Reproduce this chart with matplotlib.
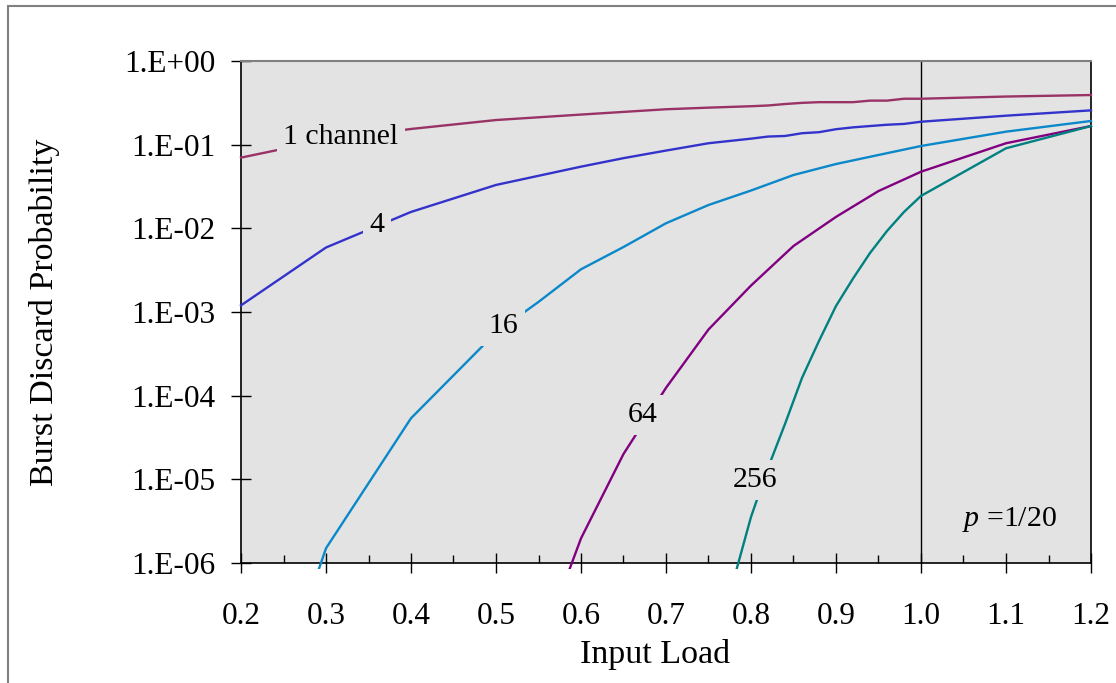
import numpy as np
import matplotlib
matplotlib.use("Agg")
import matplotlib.pyplot as plt
from matplotlib.patches import Rectangle
from matplotlib.transforms import Bbox, TransformedBbox

# ------------------------------
# 1. Data
# ------------------------------
load_1 = [0.2, 0.3, 0.4, 0.5, 0.6, 0.7, 0.75, 0.8, 0.82, 0.84, 0.86, 0.88,
          0.9, 0.92, 0.94, 0.96, 0.98, 1.0, 1.1, 1.2]
prob_1 = [0.070, 0.114, 0.154, 0.197, 0.229, 0.265, 0.277, 0.288, 0.294, 0.306,
          0.316, 0.322, 0.322, 0.322, 0.336, 0.336, 0.354, 0.354, 0.376, 0.392]

load_4 = [0.2, 0.3, 0.4, 0.5, 0.6, 0.65, 0.7, 0.75, 0.8, 0.82, 0.84, 0.86, 0.88,
          0.9, 0.92, 0.94, 0.96, 0.98, 1.0, 1.1, 1.2]
prob_4 = [1.2e-3, 5.9e-3, 1.57e-2, 3.30e-2, 5.46e-2, 0.069, 0.085, 0.104, 0.118,
          0.125, 0.127, 0.137, 0.141, 0.153, 0.161, 0.167, 0.173, 0.177, 0.188,
          0.222, 0.257]

load_16 = [0.29, 0.3, 0.4, 0.5, 0.55, 0.6, 0.65, 0.7, 0.75, 0.8, 0.85, 0.9,
           0.95, 1.0, 1.1, 1.2]
prob_16 = [7.6e-7, 1.5e-6, 5.37e-5, 5.69e-4, 1.32e-3, 3.24e-3, 5.98e-3, 1.15e-2,
           1.90e-2, 2.83e-2, 4.34e-2, 5.87e-2, 7.53e-2, 9.64e-2, 0.143, 0.192]

load_64 = [0.58, 0.6, 0.65, 0.7, 0.75, 0.8, 0.85, 0.9, 0.95, 1.0, 1.1, 1.2]
prob_64 = [5.6e-7, 1.97e-6, 2.01e-5, 1.24e-4, 6.18e-4, 2.07e-3, 6.15e-3,
           1.37e-2, 2.79e-2, 4.75e-2, 0.104, 0.167]

load_256 = [0.78, 0.8, 0.82, 0.84, 0.86, 0.88, 0.9, 0.92, 0.94, 0.96, 0.98,
            1.0, 1.1, 1.2]
prob_256 = [6.5e-7, 3.55e-6, 1.37e-5, 4.59e-5, 1.63e-4, 4.51e-4, 1.18e-3,
            2.51e-3, 5.07e-3, 9.29e-3, 1.57e-2, 2.44e-2, 0.0905, 0.167]

x_ticks = [0.2, 0.3, 0.4, 0.5, 0.6, 0.7, 0.8, 0.9, 1.0, 1.1, 1.2]
x_tick_labels = ["0.2", "0.3", "0.4", "0.5", "0.6", "0.7", "0.8", "0.9",
                 "1.0", "1.1", "1.2"]
y_ticks = [1e0, 1e-1, 1e-2, 1e-3, 1e-4, 1e-5, 1e-6]
y_tick_labels = ["1.E+00", "1.E-01", "1.E-02", "1.E-03", "1.E-04", "1.E-05",
                 "1.E-06"]

# curve labels: text, x, y
curve_labels = [("1 channel", 0.3176, 0.124),
                ("4", 0.360, 0.011),
                ("16", 0.508, 6.8e-4),
                ("64", 0.673, 5.9e-5),
                ("256", 0.805, 9.8e-6)]

# ------------------------------
# 2. Plot
# ------------------------------
plt.rcParams["font.family"] = ["Liberation Serif", "DejaVu Serif"]
plt.rcParams["mathtext.fontset"] = "custom"
plt.rcParams["mathtext.it"] = "Liberation Serif:italic"
plt.rcParams["mathtext.rm"] = "Liberation Serif"
TICK_FS = 22.5
LABEL_FS = 21.5
TITLE_FS = 24.5
BG = "#E3E3E3"

fig = plt.figure(figsize=(11.16, 6.83), dpi=100)
ax = fig.add_axes([241 / 1116, 1 - 563 / 683, 850 / 1116, 502 / 683])
ax.set_facecolor(BG)

series = [(load_1, prob_1, "#993366"),
          (load_4, prob_4, "#3333CC"),
          (load_16, prob_16, "#0A88C9"),
          (load_64, prob_64, "#800080"),
          (load_256, prob_256, "#008080")]

# let lines run a few pixels past the plot edge, like the original
clip = TransformedBbox(Bbox([[-0.01, -0.012], [1.01, 1.0]]), ax.transAxes)
for xs, ys, col in series:
    ln, = ax.plot(xs, ys, color=col, lw=1.7, zorder=3)
    ln.set_clip_box(clip)

ax.axvline(1.0, color="black", lw=1.0, zorder=2)

for txt, tx, ty in curve_labels:
    ax.text(tx, ty, txt, fontsize=LABEL_FS, ha="center", va="center", zorder=5,
            bbox=dict(facecolor=BG, edgecolor="none", pad=5))

ax.text(1.104, 3.3e-6, r"$p$ =1/20", fontsize=LABEL_FS, ha="center",
        va="center", zorder=5)

ax.set_yscale("log")
ax.set_xlim(0.2, 1.2)
ax.set_ylim(1e-6, 1e0)

ax.set_xticks(x_ticks)
ax.set_xticklabels(x_tick_labels)
ax.set_xticks(np.arange(0.25, 1.2, 0.1), minor=True)
ax.set_yticks(y_ticks)
ax.set_yticklabels(y_tick_labels)
ax.yaxis.set_minor_locator(matplotlib.ticker.NullLocator())

ax.tick_params(axis="x", which="major", direction="inout", length=13.7,
               width=1, labelsize=TICK_FS, pad=21)
ax.tick_params(axis="x", which="minor", direction="in", length=5.8, width=1)
ax.tick_params(axis="y", which="major", direction="inout", length=14.4,
               width=1, labelsize=TICK_FS, pad=11.5)

for side in ["left", "bottom", "right"]:
    ax.spines[side].set_color("black")
    ax.spines[side].set_linewidth(1.2)
ax.spines["top"].set_color("#808080")
ax.spines["top"].set_linewidth(1.5)

# axis titles placed where the original has them
fig.text(655 / 1116, 1 - 655 / 683, "Input Load", fontsize=TITLE_FS,
         ha="center", va="center")
fig.text(45 / 1116, 1 - 312 / 683, "Burst Discard Probability",
         fontsize=TITLE_FS, rotation=90, ha="center", va="center")

# outer chart frame (only left and top edges fall inside the image)
fig.add_artist(Rectangle((8 / 1116, -0.05), 1.2, 1.05 - 6.5 / 683,
                         transform=fig.transFigure, fill=False,
                         edgecolor="#808080", lw=1.5))

fig.savefig("out.png", dpi=100)
